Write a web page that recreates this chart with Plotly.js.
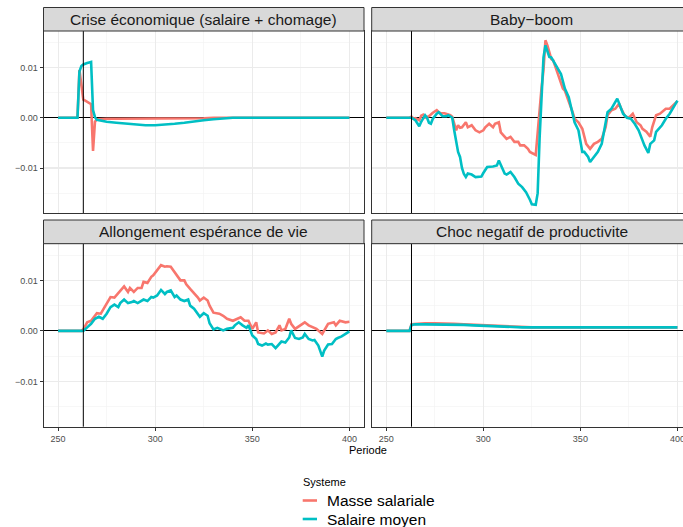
<!DOCTYPE html>
<html>
<head>
<meta charset="utf-8">
<script src="https://cdn.plot.ly/plotly-3.0.1.min.js"></script>
<style>
html, body { margin: 0; padding: 0; overflow: hidden; background: #fff; }
#chart { width: 700px; height: 527px; }
</style>
</head>
<body>
<div id="chart"></div>
<script>
// ---------------- DATA ----------------
const panelTitles = ["Crise économique (salaire + chomage)", "Baby\u2212boom", "Allongement espérance de vie", "Choc negatif de productivite"];
const seriesNames = ["Masse salariale", "Salaire moyen"];
const legendTitle = "Systeme";
const xAxisTitle = "Periode";
const shockPeriod = 263;
const xTickVals = [250, 300, 350, 400];
const xTickText = ["250", "300", "350", "400"];
const xMinorVals = [275, 325, 375];
const yTickVals = [-0.01, 0, 0.01];
const yTickText = ["\u22120.01", "0.00", "0.01"];
const yMinorVals = [-0.015, -0.005, 0.005, 0.015];

// Crise économique
const crisePeriods = [250, 259, 260, 261, 262, 263, 264, 265, 266, 267, 268, 269, 270, 272, 275, 280, 285, 290, 295, 300, 305, 310, 315, 320, 325, 330, 335, 340, 350, 400];
const criseMasse   = [0, 0, 0, 0.0095, 0.0060, 0.0036, 0.0034, 0.0032, 0.0030, 0.0027, -0.0066, -0.0008, -0.0003, -0.0002, -0.0002, -0.0002, -0.0002, -0.0002, -0.0002, -0.0002, -0.0002, -0.0001, -0.0001, -0.0001, -0.0001, 0, 0, 0, 0, 0];
const criseSalaire = [0, 0, 0, 0.0092, 0.0103, 0.0106, 0.0108, 0.0109, 0.0110, 0.0111, 0.0015, 0.0001, -0.0004, -0.0006, -0.0008, -0.0010, -0.0012, -0.0014, -0.0015, -0.0015, -0.0014, -0.0012, -0.0010, -0.0007, -0.0005, -0.0003, -0.0001, 0, 0, 0];

// Baby-boom
const babyMassePeriods = [250, 262, 263, 264, 265, 267, 268, 269, 270, 272, 274, 276, 277, 278, 280, 281, 283, 284, 285, 286, 287, 288, 289, 291, 292, 294, 296, 298, 300, 301, 303, 305, 306, 308, 309, 311, 312, 314, 316, 318, 319, 321, 323, 324, 326, 327, 328, 329, 330, 331, 332, 333, 335, 336, 338, 341, 342, 344, 346, 347, 349, 351, 352, 353, 355, 357, 359, 361, 363, 364, 366, 368, 370, 371, 373, 375, 377, 379, 381, 382, 384, 386, 387, 388, 389, 391, 393, 394, 396, 398, 400];
const babyMasse = [0, 0, 0.0002, -0.0002, -0.0001, -0.0005, 0.0004, 0.0006, 0, 0.0003, 0.0010, 0.0015, 0.0011, 0.0009, 0.0009, 0.0008, 0.0005, 0.0002, -0.0011, -0.0025, -0.0015, -0.0020, -0.0019, -0.0009, -0.0019, -0.0015, -0.0025, -0.0029, -0.0025, -0.0019, -0.0012, -0.0019, -0.0012, -0.0009, -0.0029, -0.0038, -0.0042, -0.0038, -0.0048, -0.0048, -0.0055, -0.0055, -0.0062, -0.0068, -0.0073, -0.0074, -0.0030, 0.0020, 0.0060, 0.0095, 0.0154, 0.0144, 0.0117, 0.0114, 0.0091, 0.0058, 0.0054, 0.0034, 0.0011, -0.0002, -0.0009, -0.0022, -0.0035, -0.0052, -0.0062, -0.0052, -0.0048, -0.0042, -0.0019, 0.0005, 0.0015, 0.0018, 0.0028, 0.0018, 0.0003, 0, 0.0008, -0.0009, -0.0015, -0.0022, -0.0028, -0.0038, -0.0019, -0.0005, 0.0005, 0.0008, 0.0015, 0.0018, 0.0018, 0.0025, 0.0033];
const babySalairePeriods = [250, 262, 263, 265, 266, 267, 268, 270, 271, 272, 273, 274, 276, 277, 279, 281, 282, 284, 285, 286, 287, 288, 289, 290, 291, 292, 294, 296, 299, 300, 302, 305, 307, 308, 309, 311, 312, 314, 316, 318, 320, 322, 324, 325, 327, 328, 329, 330, 331, 332, 334, 335, 337, 340, 342, 344, 346, 347, 349, 350, 351, 352, 354, 355, 357, 359, 361, 363, 364, 366, 368, 369, 370, 372, 374, 376, 378, 380, 382, 383, 385, 386, 388, 389, 392, 394, 396, 398, 400];
const babySalaire = [0, 0, 0, -0.0005, -0.0010, -0.0017, -0.0008, 0.0005, 0, -0.0010, -0.0012, -0.0002, 0.0008, 0.0011, 0.0003, 0.0003, 0.0005, 0, -0.0025, -0.0045, -0.0068, -0.0078, -0.0100, -0.0112, -0.0118, -0.0111, -0.0113, -0.0118, -0.0117, -0.0110, -0.0098, -0.0097, -0.0095, -0.0085, -0.0095, -0.0111, -0.0113, -0.0108, -0.0118, -0.0131, -0.0138, -0.0148, -0.0163, -0.0172, -0.0173, -0.0150, -0.0040, 0.0030, 0.0120, 0.0144, 0.0121, 0.0120, 0.0107, 0.0087, 0.0058, 0.0041, 0.0008, -0.0009, -0.0025, -0.0045, -0.0068, -0.0068, -0.0078, -0.0088, -0.0078, -0.0068, -0.0052, -0.0012, 0.0011, 0.0018, 0.0031, 0.0038, 0.0028, 0.0008, 0, -0.0002, -0.0012, -0.0025, -0.0045, -0.0055, -0.0070, -0.0052, -0.0045, -0.0028, -0.0015, -0.0002, 0.0008, 0.0021, 0.0034];

// Allongement espérance de vie
const vieMassePeriods = [250, 262, 263, 265, 267, 269, 270, 272, 274, 276, 277, 279, 281, 282, 284, 286, 287, 289, 291, 293, 294, 296, 298, 299, 301, 303, 305, 306, 308, 310, 311, 313, 315, 316, 318, 320, 322, 323, 325, 327, 328, 330, 333, 335, 337, 340, 342, 344, 346, 348, 350, 352, 353, 356, 358, 360, 362, 364, 365, 367, 369, 370, 372, 375, 377, 379, 381, 383, 386, 387, 389, 392, 393, 395, 398, 400];
const vieMasse = [0, 0, 0.0003, 0.0017, 0.0020, 0.0030, 0.0035, 0.0034, 0.0047, 0.0062, 0.0067, 0.0066, 0.0075, 0.0080, 0.0088, 0.0077, 0.0085, 0.0077, 0.0085, 0.0085, 0.0097, 0.0095, 0.0107, 0.0110, 0.0120, 0.0130, 0.0127, 0.0128, 0.0127, 0.0117, 0.0110, 0.0100, 0.0100, 0.0092, 0.0083, 0.0075, 0.0066, 0.0060, 0.0066, 0.0060, 0.0050, 0.0036, 0.0034, 0.0030, 0.0024, 0.0020, 0.0024, 0.0027, 0.0020, 0.0020, 0.0004, 0.0017, -0.0003, -0.0005, 0.0001, -0.0006, -0.0003, 0.0011, 0.0001, 0.0004, 0.0024, 0.0014, 0.0004, 0.0011, 0.0017, 0.0011, 0.0007, 0.0004, -0.0006, 0.0001, 0.0014, 0.0017, 0.0011, 0.0020, 0.0017, 0.0018];
const vieSalairePeriods = [250, 263, 265, 267, 269, 271, 273, 275, 277, 279, 281, 282, 284, 286, 288, 289, 291, 293, 294, 296, 298, 299, 301, 303, 305, 306, 308, 310, 311, 313, 315, 317, 318, 320, 322, 323, 325, 327, 328, 330, 332, 335, 337, 340, 341, 343, 345, 347, 348, 350, 352, 353, 355, 357, 358, 360, 362, 364, 365, 367, 369, 370, 372, 374, 376, 377, 379, 381, 382, 384, 386, 387, 389, 391, 393, 394, 396, 398, 400];
const vieSalaire = [0, 0, 0.0007, 0.0014, 0.0024, 0.0028, 0.0024, 0.0034, 0.0047, 0.0052, 0.0047, 0.0055, 0.0062, 0.0055, 0.0057, 0.0059, 0.0055, 0.0059, 0.0062, 0.0059, 0.0067, 0.0066, 0.0070, 0.0081, 0.0073, 0.0077, 0.0080, 0.0067, 0.0070, 0.0062, 0.0059, 0.0062, 0.0050, 0.0044, 0.0033, 0.0028, 0.0035, 0.0030, 0.0015, 0.0003, 0.0006, 0.0001, 0.0004, 0.0006, 0.0011, 0.0017, 0.0011, 0.0006, 0.0011, -0.0009, -0.0016, -0.0026, -0.0029, -0.0025, -0.0027, -0.0026, -0.0034, -0.0026, -0.0021, -0.0023, -0.0013, 0.0001, -0.0014, -0.0016, -0.0013, -0.0006, -0.0016, -0.0019, -0.0018, -0.0029, -0.0051, -0.0039, -0.0027, -0.0026, -0.0016, -0.0014, -0.0011, -0.0006, -0.0001];

// Choc negatif de productivite
const chocPeriods = [250, 262, 263, 265, 270, 275, 280, 285, 290, 295, 300, 305, 310, 315, 320, 325, 330, 340, 350, 375, 400];
const chocMasse   = [0, 0, 0.0013, 0.0014, 0.0015, 0.0015, 0.0015, 0.0014, 0.0013, 0.0012, 0.0011, 0.0010, 0.0009, 0.0008, 0.0008, 0.0007, 0.0007, 0.0007, 0.0007, 0.0007, 0.0007];
const chocSalaire = [0, 0, 0.0012, 0.0013, 0.0013, 0.0013, 0.0013, 0.0013, 0.0012, 0.0011, 0.0010, 0.0009, 0.0008, 0.0008, 0.0007, 0.0007, 0.0007, 0.0007, 0.0007, 0.0007, 0.0007];

// ---------------- STYLE / LAYOUT ----------------
const W = 700, H = 527;
const colors = ["#F8766D", "#00BFC4"];
const FONT = "Liberation Sans, Arial, Helvetica, sans-serif";
const px = v => v / W;
const py = v => 1 - v / H;

const colDom = [[px(43.5), px(364)], [px(371.7), px(692)]];
const rowDom = [[py(213), py(31)], [py(426.7), py(243.7)]];
const stripTop = [7.5, 220];
const stripBot = [31, 243.7];

const panels = [
  {x: [crisePeriods, crisePeriods], y: [criseMasse, criseSalaire]},
  {x: [babyMassePeriods, babySalairePeriods], y: [babyMasse, babySalaire]},
  {x: [vieMassePeriods, vieSalairePeriods], y: [vieMasse, vieSalaire]},
  {x: [chocPeriods, chocPeriods], y: [chocMasse, chocSalaire]}
];

const traces = [];
const layout = {
  width: W, height: H,
  margin: {l: 0, r: 0, t: 0, b: 0},
  paper_bgcolor: "#ffffff", plot_bgcolor: "#ffffff",
  showlegend: false,
  font: {family: FONT, color: "#000"},
  shapes: [], annotations: []
};

panels.forEach((p, i) => {
  const col = i % 2, row = Math.floor(i / 2);
  const sfx = i === 0 ? "" : String(i + 1);
  const xa = "x" + sfx, ya = "y" + sfx;
  for (let s = 0; s < 2; s++) {
    traces.push({
      type: "scatter", mode: "lines",
      x: p.x[s], y: p.y[s],
      xaxis: xa, yaxis: ya,
      name: seriesNames[s],
      line: {color: colors[s], width: 2.6},
      hoverinfo: "skip"
    });
  }
  const common = {
    showgrid: true, gridcolor: "#EBEBEB", gridwidth: 1.1,
    showline: true, mirror: true, linecolor: "#333333", linewidth: 1,
    automargin: false, fixedrange: true,
    tickfont: {family: FONT, size: 9, color: "#4D4D4D"}
  };
  layout["xaxis" + sfx] = Object.assign({}, common, {
    domain: colDom[col], anchor: ya, range: [242.5, 407.5],
    tickvals: xTickVals, ticktext: xTickText,
    showticklabels: row === 1,
    ticks: row === 1 ? "outside" : "", ticklen: 3, tickcolor: "#333333", tickwidth: 1,
    zeroline: false,
    minor: {tickvals: xMinorVals, showgrid: true, gridcolor: "#F2F2F2", gridwidth: 0.6}
  });
  layout["yaxis" + sfx] = Object.assign({}, common, {
    domain: rowDom[row], anchor: xa, range: [-0.01895, 0.01725],
    tickvals: yTickVals, ticktext: yTickText,
    showticklabels: col === 0,
    ticks: col === 0 ? "outside" : "", ticklen: 3, tickcolor: "#333333", tickwidth: 1,
    zeroline: true, zerolinecolor: "#000000", zerolinewidth: 1,
    minor: {tickvals: yMinorVals, showgrid: true, gridcolor: "#F2F2F2", gridwidth: 0.6}
  });
  // vertical reference line at the shock period
  layout.shapes.push({
    type: "line", xref: xa, yref: ya + " domain",
    x0: shockPeriod, x1: shockPeriod, y0: 0, y1: 1,
    line: {color: "#000000", width: 1}, layer: "above"
  });
  // strip
  layout.shapes.push({
    type: "rect", xref: "paper", yref: "paper",
    x0: colDom[col][0], x1: colDom[col][1],
    y0: py(stripBot[row]), y1: py(stripTop[row]),
    fillcolor: "#D9D9D9", line: {color: "#333333", width: 1}
  });
  layout.annotations.push({
    xref: "paper", yref: "paper",
    x: (colDom[col][0] + colDom[col][1]) / 2,
    y: py((stripTop[row] + stripBot[row]) / 2),
    xanchor: "center", yanchor: "middle",
    text: panelTitles[i], showarrow: false,
    font: {family: FONT, size: 15.5, color: "#1A1A1A"}
  });
});

// axis title
layout.annotations.push({
  xref: "paper", yref: "paper", x: px(368), y: py(449.5),
  xanchor: "center", yanchor: "middle", text: xAxisTitle, showarrow: false,
  font: {family: FONT, size: 11, color: "#000"}
});
// legend (drawn manually, ggplot style)
layout.annotations.push({
  xref: "paper", yref: "paper", x: px(300.5), y: py(481.7),
  xanchor: "left", yanchor: "middle", text: legendTitle, showarrow: false,
  font: {family: FONT, size: 11, color: "#000"}
});
const legY = [500.5, 519];
seriesNames.forEach((n, s) => {
  layout.shapes.push({
    type: "line", xref: "paper", yref: "paper",
    x0: px(302.7), x1: px(317), y0: py(legY[s]), y1: py(legY[s]),
    line: {color: colors[s], width: 2.6}
  });
  layout.annotations.push({
    xref: "paper", yref: "paper", x: px(324.5), y: py(legY[s]),
    xanchor: "left", yanchor: "middle", text: n, showarrow: false,
    font: {family: FONT, size: 15.5, color: "#000"}
  });
});

Plotly.newPlot("chart", traces, layout, {displayModeBar: false, staticPlot: true});
</script>
</body>
</html>
